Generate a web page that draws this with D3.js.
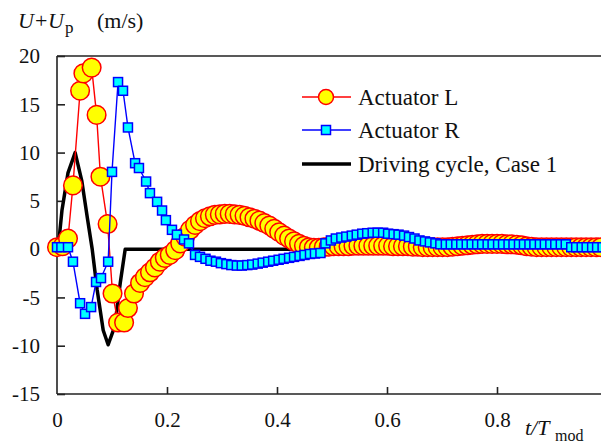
<!DOCTYPE html>
<html><head><meta charset="utf-8">
<script src="https://cdn.jsdelivr.net/npm/d3@7"></script>
<style>html,body{margin:0;padding:0;background:#fff;}svg{display:block;}
svg text{font-family:"Liberation Serif","Tinos","Times New Roman","DejaVu Serif",serif;}</style>
</head><body>
<svg id="chart" width="601" height="444"></svg>
<script>
// ---- data ----
const yTicks = [20, 15, 10, 5, 0, -5, -10, -15];
const xTicks = [0, 0.2, 0.4, 0.6, 0.8];
const xTickLabels = ["0", "0.2", "0.4", "0.6", "0.8"];
const legendLabels = ["Actuator L", "Actuator R", "Driving cycle, Case 1"];

const drivingT = [0, 0.002, 0.009, 0.020, 0.033, 0.045, 0.055, 0.064, 0.073, 0.084, 0.093, 0.105, 0.115, 0.124, 1.0];
const drivingV = [0, 0, 4.0, 7.9, 10.0, 7.1, 3.3, 0, -4.2, -8.4, -9.9, -8.0, -3.5, 0, 0];

const actLT = [0.000,0.010,0.020,0.029,0.042,0.048,0.063,0.072,0.079,0.092,0.101,0.111,0.122,0.129,0.140,0.151,0.160,0.169,0.178,0.187,0.196,0.205,0.215,0.224,0.233,0.242,0.251,0.260,0.269,0.278,0.287,0.296,0.305,0.314,0.323,0.332,0.341,0.350,0.359,0.368,0.377,0.386,0.395,0.404,0.413,0.422,0.431,0.440,0.449,0.458,0.467,0.476,0.485,0.494,0.503,0.512,0.521,0.530,0.539,0.548,0.557,0.566,0.575,0.584,0.593,0.602,0.611,0.620,0.629,0.638,0.647,0.656,0.665,0.674,0.683,0.692,0.701,0.710,0.719,0.728,0.737,0.746,0.755,0.764,0.773,0.782,0.791,0.800,0.809,0.818,0.827,0.836,0.845,0.854,0.863,0.872,0.881,0.890,0.899,0.908,0.917,0.926,0.935,0.944,0.953,0.962,0.971,0.980,0.989];
const actLV = [0.2,0.3,1.1,6.6,16.4,18.2,18.8,13.9,7.5,2.6,-4.6,-7.6,-7.6,-6.1,-4.6,-3.5,-2.9,-2.4,-1.9,-1.3,-0.9,-0.6,-0.1,0.6,1.3,2.0,2.5,2.9,3.2,3.4,3.55,3.6,3.65,3.65,3.6,3.55,3.45,3.3,3.15,2.95,2.7,2.45,2.1,1.75,1.4,1.1,0.8,0.55,0.35,0.2,0.15,0.15,0.2,0.25,0.3,0.3,0.3,0.3,0.35,0.35,0.35,0.35,0.35,0.35,0.35,0.35,0.3,0.3,0.3,0.3,0.25,0.25,0.2,0.2,0.2,0.2,0.2,0.2,0.25,0.3,0.35,0.4,0.45,0.5,0.55,0.55,0.55,0.55,0.55,0.5,0.5,0.45,0.4,0.3,0.25,0.2,0.2,0.2,0.2,0.2,0.2,0.2,0.2,0.2,0.2,0.2,0.2,0.2,0.2];

const actRT = [0.000,0.008,0.020,0.029,0.042,0.051,0.062,0.071,0.080,0.093,0.100,0.111,0.120,0.129,0.142,0.149,0.162,0.169,0.182,0.191,0.198,0.209,0.218,0.231,0.240,0.251,0.260,0.270,0.279,0.289,0.298,0.308,0.317,0.327,0.336,0.346,0.355,0.365,0.374,0.384,0.393,0.403,0.412,0.422,0.431,0.441,0.450,0.460,0.469,0.479,0.488,0.498,0.507,0.517,0.526,0.536,0.545,0.555,0.564,0.574,0.583,0.593,0.602,0.612,0.621,0.631,0.640,0.650,0.659,0.669,0.678,0.688,0.697,0.707,0.716,0.726,0.735,0.745,0.754,0.764,0.773,0.783,0.792,0.802,0.811,0.821,0.830,0.840,0.849,0.859,0.868,0.878,0.887,0.897,0.906,0.916,0.925,0.935,0.944,0.954,0.963,0.973,0.982,0.992];
const actRV = [0.2,0.2,0.2,-1.3,-5.6,-6.7,-6.0,-3.4,-3.0,-1.3,8.0,17.3,16.4,12.6,8.9,8.4,7.0,5.8,4.9,4.0,3.0,2.0,1.5,1.0,0.6,-0.6,-0.8,-1.0,-1.2,-1.3,-1.45,-1.55,-1.65,-1.7,-1.7,-1.65,-1.6,-1.5,-1.4,-1.3,-1.2,-1.1,-1.0,-0.9,-0.8,-0.7,-0.6,-0.5,-0.45,-0.4,0.6,0.9,1.1,1.2,1.3,1.4,1.5,1.6,1.65,1.7,1.7,1.7,1.6,1.55,1.5,1.4,1.25,1.1,0.9,0.8,0.7,0.6,0.5,0.5,0.5,0.5,0.5,0.5,0.5,0.5,0.5,0.5,0.5,0.5,0.5,0.5,0.5,0.5,0.5,0.5,0.5,0.5,0.5,0.5,0.5,0.5,0.5,0.2,0.2,0.2,0.2,0.2,0.2,0.2];

// ---- layout ----
const svg = d3.select("#chart");
const x = d3.scaleLinear().domain([0, 1]).range([57, 607]);
const y = d3.scaleLinear().domain([-15, 20]).range([394, 56]);

// frame
const frame = svg.append("g").attr("stroke", "#222").attr("stroke-width", 1.6).attr("fill", "none");
frame.append("line").attr("x1", x(0)).attr("x2", 601).attr("y1", y(20)).attr("y2", y(20));
frame.append("line").attr("x1", x(0)).attr("x2", 601).attr("y1", y(-15)).attr("y2", y(-15));
frame.append("line").attr("x1", x(0)).attr("x2", x(0)).attr("y1", y(20)).attr("y2", y(-15));

// axes
const yAxis = svg.append("g").attr("transform", `translate(${x(0)},0)`)
  .call(d3.axisLeft(y).tickValues(yTicks).tickSize(-8).tickSizeOuter(0).tickPadding(17).tickFormat(d3.format("d")));
yAxis.select(".domain").remove();
yAxis.selectAll(".tick line").attr("stroke", "#222").attr("stroke-width", 1.6);
yAxis.selectAll(".tick text").attr("font-size", 21).attr("fill", "#111").text(d => d < 0 ? "-" + Math.abs(d) : d);

const xAxis = svg.append("g").attr("transform", `translate(0,${y(-15)})`)
  .call(d3.axisBottom(x).tickValues(xTicks).tickSize(-7).tickSizeOuter(0).tickPadding(18).tickFormat((d, i) => xTickLabels[i]));
xAxis.select(".domain").remove();
xAxis.selectAll(".tick line").attr("stroke", "#222").attr("stroke-width", 1.6).filter(d => d === 0).remove();
xAxis.selectAll(".tick text").attr("font-size", 21).attr("fill", "#111");
yAxis.attr("font-family", null);
xAxis.attr("font-family", null);

// driving cycle
const line = d3.line().x(d => x(d[0])).y(d => y(d[1]));
const drv = drivingT.map((t, i) => [t, drivingV[i]]);
svg.append("path").datum(drv).attr("d", line).attr("fill", "none").attr("stroke", "#000").attr("stroke-width", 3.5).attr("stroke-linejoin", "round");

// Actuator L
const L = actLT.map((t, i) => [t, actLV[i]]);
svg.append("path").datum(L).attr("d", line).attr("fill", "none").attr("stroke", "#ff0000").attr("stroke-width", 1.4);
svg.append("g").selectAll("circle").data(L).join("circle")
  .attr("cx", d => x(d[0])).attr("cy", d => y(d[1])).attr("r", 9.3)
  .attr("fill", "#ffff00").attr("stroke", "#ff0000").attr("stroke-width", 1.5);

// Actuator R
const R = actRT.map((t, i) => [t, actRV[i]]);
svg.append("path").datum(R).attr("d", line).attr("fill", "none").attr("stroke", "#0000ff").attr("stroke-width", 1.4);
const sq = 9;
svg.append("g").selectAll("rect").data(R).join("rect")
  .attr("x", d => x(d[0]) - sq / 2).attr("y", d => y(d[1]) - sq / 2).attr("width", sq).attr("height", sq)
  .attr("fill", "#00ffff").attr("stroke", "#0000ff").attr("stroke-width", 1.5);

// legend
const lg = svg.append("g");
const rows = [97, 130, 164];
lg.append("line").attr("x1", 302).attr("x2", 351).attr("y1", rows[0]).attr("y2", rows[0]).attr("stroke", "#ff0000").attr("stroke-width", 1.4);
lg.append("circle").attr("cx", 326).attr("cy", rows[0]).attr("r", 7.5).attr("fill", "#ffff00").attr("stroke", "#ff0000").attr("stroke-width", 1.5);
lg.append("line").attr("x1", 302).attr("x2", 351).attr("y1", rows[1]).attr("y2", rows[1]).attr("stroke", "#0000ff").attr("stroke-width", 1.4);
lg.append("rect").attr("x", 326 - 4.5).attr("y", rows[1] - 4.5).attr("width", 9).attr("height", 9).attr("fill", "#00ffff").attr("stroke", "#0000ff").attr("stroke-width", 1.5);
lg.append("line").attr("x1", 302).attr("x2", 351).attr("y1", rows[2]).attr("y2", rows[2]).attr("stroke", "#000").attr("stroke-width", 3.5);
legendLabels.forEach((s, i) => {
  lg.append("text").attr("x", 358).attr("y", rows[i] + 8).attr("font-size", 23).attr("fill", "#111").text(s);
});

// y title: U + U_p (m/s)
const yt = svg.append("g").attr("font-size", 22).attr("fill", "#111");
yt.append("text").attr("x", 18).attr("y", 28).attr("font-style", "italic").text("U");
yt.append("text").attr("x", 35).attr("y", 28).text("+");
yt.append("text").attr("x", 48).attr("y", 28).attr("font-style", "italic").text("U");
yt.append("text").attr("x", 65).attr("y", 33).attr("font-size", 17).text("p");
yt.append("text").attr("x", 97).attr("y", 28).text("(m/s)");

// x title: t/T_mod
const xt = svg.append("g").attr("font-size", 22).attr("fill", "#111");
xt.append("text").attr("x", 525).attr("y", 435).attr("font-style", "italic").text("t/T");
xt.append("text").attr("x", 555).attr("y", 441).attr("font-size", 16).text("mod");
</script>
</body></html>
